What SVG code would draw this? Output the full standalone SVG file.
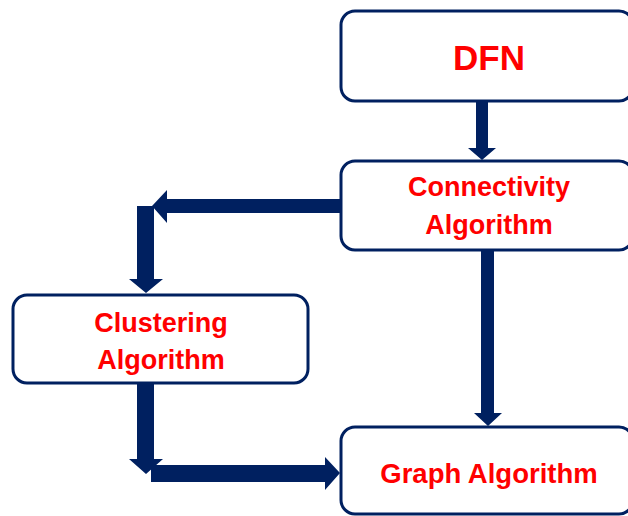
<svg xmlns="http://www.w3.org/2000/svg" width="628" height="516" viewBox="0 0 628 516">
<style>
.box{fill:#fff;stroke:#002060;stroke-width:3}
.lbl{fill:#ff0000;font-family:"Liberation Sans",Arial,sans-serif;font-weight:bold;text-anchor:middle}
.arr{fill:#002060}
</style>
<rect width="628" height="516" fill="#fff"/>
<g id="connectors">
<polygon class="arr" points="476,101 488,101 488,148 496,148 482,160 468,148 476,148"/>
<polygon class="arr" points="340,199 340,213 167,213 167,223 152,206 167,190 167,199"/>
<polygon class="arr" points="137,206 154,206 154,279 163,279 146,293 129,279 137,279"/>
<polygon class="arr" points="481,251 494,251 494,413 502,413 488,426 474,413 481,413"/>
<polygon class="arr" points="137,383 154,383 154,459 163,459 146,474 129,459 137,459"/>
<polygon class="arr" points="151,465 325,465 325,457 340,473 325,490 325,482 151,482"/>
</g>
<g id="dfn">
<rect class="box" x="341" y="11" width="292" height="90" rx="14"/>
<text class="lbl" x="489" y="70" font-size="35">DFN</text>
</g>
<g id="connectivity">
<rect class="box" x="341" y="161" width="292" height="89" rx="14"/>
<text class="lbl" x="489" y="196" font-size="27">Connectivity</text>
<text class="lbl" x="489" y="234" font-size="27">Algorithm</text>
</g>
<g id="clustering">
<rect class="box" x="13" y="295" width="295" height="88" rx="14"/>
<text class="lbl" x="161" y="332" font-size="27">Clustering</text>
<text class="lbl" x="161" y="369" font-size="27">Algorithm</text>
</g>
<g id="graph">
<rect class="box" x="341" y="427" width="292" height="87" rx="14"/>
<text class="lbl" x="489" y="483" font-size="27.5">Graph Algorithm</text>
</g>
</svg>
